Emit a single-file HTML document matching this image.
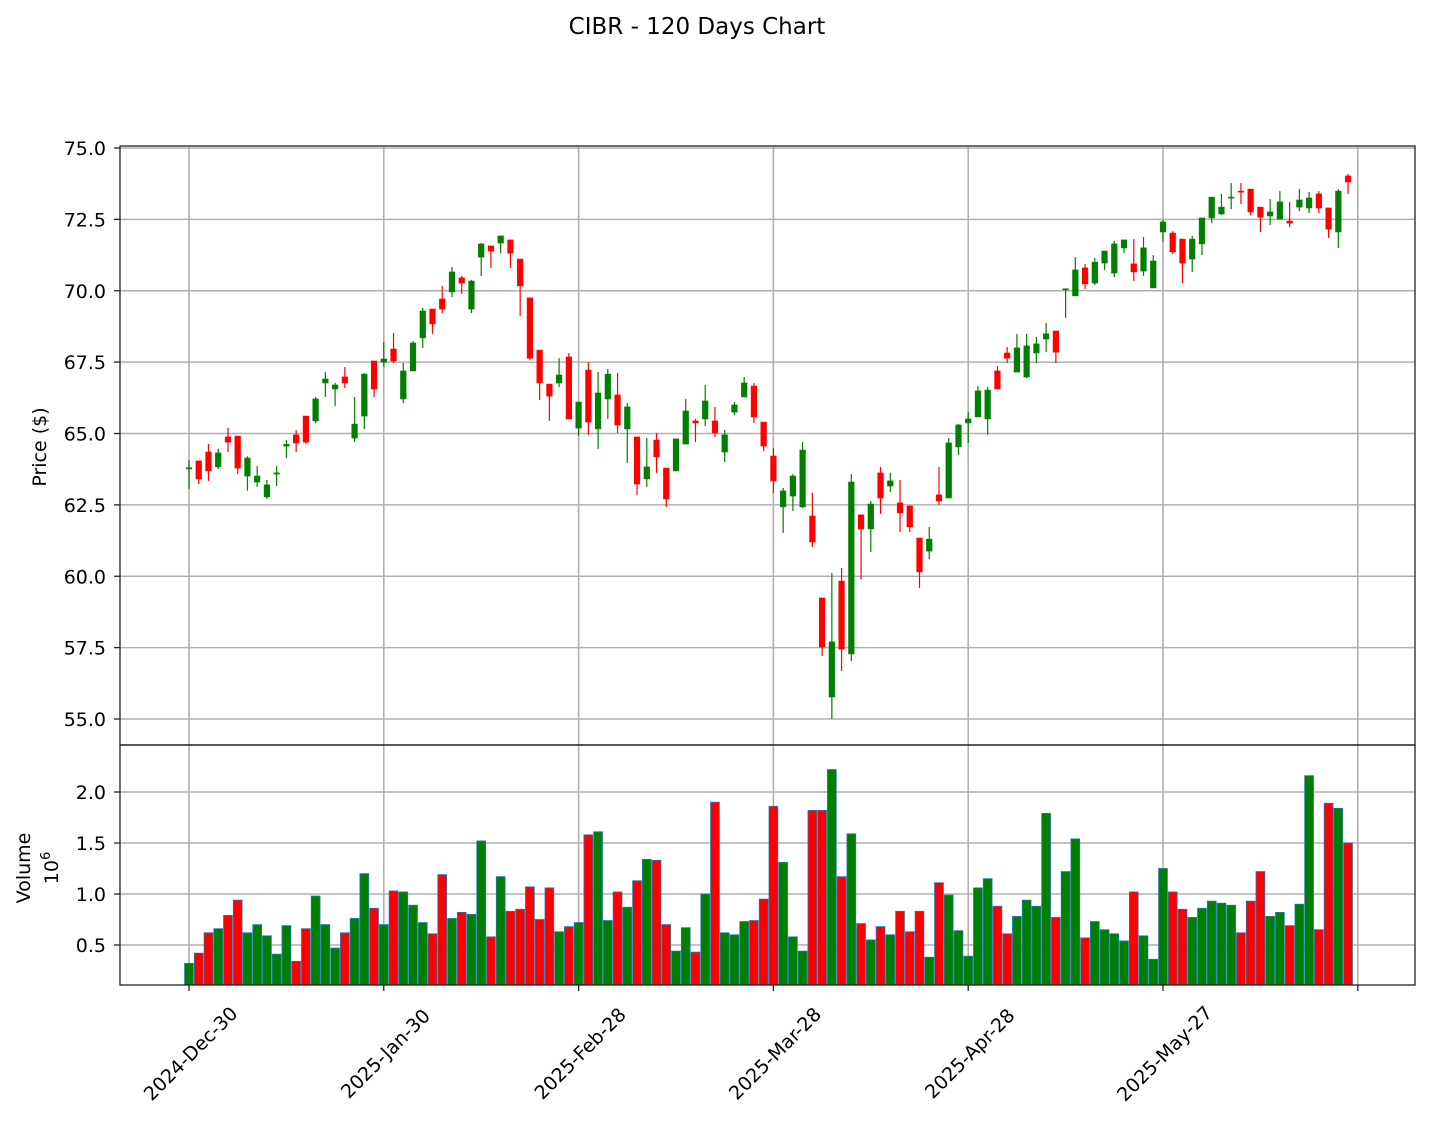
<!DOCTYPE html>
<html><head><meta charset="utf-8"><style>
body{margin:0;background:#fff;}
svg text{font-family:"DejaVu Sans","Liberation Sans",sans-serif;fill:#000;}
</style></head><body>
<svg id="chart" width="1431" height="1127" xmlns="http://www.w3.org/2000/svg">
<rect x="0" y="0" width="1431" height="1127" fill="#fff"/>
<text x="697" y="34" font-size="23" text-anchor="middle">CIBR - 120 Days Chart</text>
<g id="grid"></g>
<g id="candles"></g>
<g id="volumes"></g>
<rect x="120" y="146" width="1295" height="599" fill="none" stroke="#222" stroke-width="1.3"/>
<rect x="120" y="745" width="1295" height="240" fill="none" stroke="#222" stroke-width="1.3"/>
<g id="axes"></g>
<text transform="translate(46,447) rotate(-90)" font-size="19" text-anchor="middle">Price ($)</text>
<text transform="translate(30,868) rotate(-90)" font-size="19" text-anchor="middle">Volume</text>
<text transform="translate(58,868) rotate(-90)" font-size="19" text-anchor="middle">10<tspan dy="-8" font-size="13">6</tspan></text>
</svg>
<script>
const opens=[63.76,64.04,64.35,63.83,64.88,64.91,63.51,63.30,62.78,63.58,64.56,64.95,65.61,65.44,66.77,66.56,66.98,64.84,65.61,67.54,67.50,67.96,66.21,67.19,68.35,69.36,69.71,69.96,70.45,69.36,71.18,71.57,71.67,71.78,71.11,69.75,67.92,66.73,66.77,67.68,65.19,67.22,65.16,66.21,66.35,65.16,64.88,63.41,64.77,63.79,63.69,64.63,65.44,65.51,65.44,64.35,65.75,66.28,66.66,65.40,64.21,62.43,62.81,62.43,62.11,59.24,55.77,59.83,57.28,62.15,61.66,63.62,63.16,62.57,62.46,61.34,60.88,62.85,62.74,64.53,65.37,65.58,65.51,67.19,67.82,67.15,66.98,67.82,68.31,68.59,70.03,69.82,70.80,70.27,70.97,70.62,71.50,70.94,70.69,70.10,72.06,72.02,71.81,71.11,71.64,72.55,72.69,73.25,73.49,73.56,72.93,72.62,72.51,72.44,72.93,72.90,73.39,72.90,72.06,74.02];
const closes=[63.80,63.41,63.69,64.32,64.70,63.79,64.14,63.51,63.20,63.62,64.62,64.67,64.70,66.21,66.91,66.70,66.77,65.33,67.08,66.56,67.61,67.54,67.19,68.17,69.29,68.84,69.36,70.66,70.27,70.34,71.64,71.39,71.92,71.32,70.17,67.64,66.77,66.31,67.05,65.51,66.10,65.40,66.42,67.08,65.30,65.93,63.23,63.83,64.18,62.71,64.81,65.79,65.37,66.14,65.02,64.95,66.00,66.77,65.58,64.56,63.34,62.99,63.51,64.42,61.20,57.52,57.70,57.45,63.30,61.66,62.53,62.74,63.34,62.22,61.73,60.15,61.30,62.64,64.67,65.30,65.51,66.49,66.52,66.56,67.64,68.00,68.07,68.14,68.49,67.85,70.07,70.73,70.24,71.00,71.39,71.64,71.78,70.66,71.50,71.04,72.41,71.36,70.97,71.81,72.55,73.28,72.93,73.28,73.46,72.76,72.58,72.76,73.11,72.37,73.18,73.25,72.90,72.16,73.49,73.81];
const highs=[64.07,64.04,64.63,64.46,65.20,64.91,64.20,63.86,63.37,63.86,64.77,65.12,65.61,66.28,67.15,66.77,67.33,66.28,67.12,67.54,68.20,68.52,67.47,68.24,69.40,69.36,70.17,70.83,70.52,70.38,71.67,71.57,71.92,71.78,71.11,69.75,67.92,66.73,67.64,67.82,66.10,67.50,67.15,67.26,67.12,66.07,64.88,64.84,65.02,63.79,64.81,66.21,65.51,66.70,65.93,65.12,66.10,66.98,66.77,65.40,64.49,63.09,63.58,64.70,62.92,59.24,60.11,60.29,63.58,62.15,62.64,63.83,63.62,63.37,62.46,61.34,61.73,63.83,64.84,65.33,65.75,66.66,66.63,67.36,68.03,68.49,68.49,68.38,68.87,68.59,70.07,71.18,70.94,71.15,71.39,71.74,71.78,71.81,71.88,71.25,72.48,72.09,71.81,71.92,72.55,73.28,73.39,73.77,73.77,73.56,72.93,73.21,73.49,73.11,73.56,73.46,73.49,72.90,73.56,74.09];
const lows=[63.06,63.23,63.34,63.76,64.35,63.58,63.00,63.13,62.71,63.16,64.14,64.35,64.63,65.37,66.28,65.96,66.59,64.70,65.16,66.28,67.33,67.47,66.07,67.19,68.00,68.49,69.22,69.78,69.89,69.22,70.52,70.80,71.32,70.80,69.12,67.57,66.17,65.44,66.63,65.51,64.91,64.95,64.46,65.51,65.02,63.97,62.85,63.13,63.62,62.43,63.69,64.63,64.70,65.26,64.88,64.00,65.65,66.28,65.37,64.39,62.92,61.52,62.29,62.39,61.02,57.21,55.00,56.68,57.03,59.90,60.85,62.18,62.95,61.55,61.55,59.59,60.60,62.50,62.74,64.25,64.67,65.58,64.95,66.56,67.47,67.15,66.94,67.47,67.85,67.47,69.05,69.82,70.06,70.20,70.73,70.48,71.32,70.34,70.52,70.10,71.71,71.29,70.27,70.66,71.25,72.37,72.65,72.86,73.04,72.65,72.06,72.30,72.51,72.23,72.79,72.72,72.72,71.85,71.50,73.39];
const volumes=[0.32,0.42,0.62,0.66,0.79,0.94,0.62,0.70,0.59,0.41,0.69,0.34,0.66,0.98,0.70,0.47,0.62,0.76,1.20,0.86,0.70,1.03,1.02,0.89,0.72,0.61,1.19,0.76,0.82,0.80,1.52,0.58,1.17,0.83,0.85,1.07,0.75,1.06,0.63,0.68,0.72,1.58,1.61,0.74,1.02,0.87,1.13,1.34,1.33,0.70,0.44,0.67,0.43,1.00,1.90,0.62,0.60,0.73,0.74,0.95,1.86,1.31,0.58,0.44,1.82,1.82,2.22,1.17,1.59,0.71,0.55,0.68,0.60,0.83,0.63,0.83,0.38,1.11,0.99,0.64,0.39,1.06,1.15,0.88,0.61,0.78,0.94,0.88,1.79,0.77,1.22,1.54,0.57,0.73,0.65,0.61,0.54,1.02,0.59,0.36,1.25,1.02,0.85,0.77,0.86,0.93,0.91,0.89,0.62,0.93,1.22,0.78,0.82,0.69,0.90,2.16,0.65,1.89,1.84,1.50];
const volUp="GRRGRRGGGGGRRGGGRGGRGRGGGRRGRGGRGRRRRRGRGRGGRGRGRRGGRGRGGGRRRGGGRRGRGRGRGRRRGRGGGGGRRGGGGRGGRGGGGRGGGRRGGGGGRRRGGRGGRRGR";
const priceTicks=[55.0,57.5,60.0,62.5,65.0,67.5,70.0,72.5,75.0];
const volTicks=[0.5,1.0,1.5,2.0];
const xTickIdx=[0,20,40,60,80,100,120];
const xTickLabels=["2024-Dec-30","2025-Jan-30","2025-Feb-28","2025-Mar-28","2025-Apr-28","2025-May-27",""];

const NS="http://www.w3.org/2000/svg";
const X=i=>189+9.74*i;
const PY=p=>148+(75-p)*28.55;
const VY=v=>996-v*102;
const UP="#007f00",DN="#ff0000";
function mk(tag,attrs,parent){const e=document.createElementNS(NS,tag);for(const k in attrs)e.setAttribute(k,attrs[k]);parent.appendChild(e);return e;}
const grid=document.getElementById('grid'),cg=document.getElementById('candles'),vg=document.getElementById('volumes'),ax=document.getElementById('axes');
xTickIdx.forEach((t,k)=>{
  const g1=mk('line',{x1:X(t),x2:X(t),y1:146,y2:745,stroke:"#b0b0b0","stroke-width":1.6},grid);
  
  
  const g2=mk('line',{x1:X(t),x2:X(t),y1:745,y2:985,stroke:"#b0b0b0","stroke-width":1.6},grid);
  
  
  const tk=mk('line',{x1:X(t),x2:X(t),y1:985,y2:991,stroke:"#222","stroke-width":1.3},ax);
  
  
  if(xTickLabels[k]){
    const tx=mk('text',{transform:`translate(${X(t)+2},1054) rotate(-45)`,"font-size":"19","text-anchor":"middle","dominant-baseline":"central"},ax);
    tx.textContent=xTickLabels[k];
    
    
  }
});
priceTicks.forEach(p=>{
  const gl=mk('line',{x1:120,x2:1415,y1:PY(p),y2:PY(p),stroke:"#b0b0b0","stroke-width":1.6},grid);
  
  
  const tk=mk('line',{x1:114,x2:120,y1:PY(p),y2:PY(p),stroke:"#222","stroke-width":1.3},ax);
  
  
  const tx=mk('text',{x:106,y:PY(p)+7,"font-size":"19","text-anchor":"end"},ax);
  tx.textContent=p.toFixed(1);
  
  
});
volTicks.forEach(v=>{
  const gl=mk('line',{x1:120,x2:1415,y1:VY(v),y2:VY(v),stroke:"#b0b0b0","stroke-width":1.6},grid);
  
  
  const tk=mk('line',{x1:114,x2:120,y1:VY(v),y2:VY(v),stroke:"#222","stroke-width":1.3},ax);
  
  
  const tx=mk('text',{x:106,y:VY(v)+7,"font-size":"19","text-anchor":"end"},ax);
  tx.textContent=v.toFixed(1);
  
  
});
opens.forEach((o,i)=>{
  const c=closes[i],col=c>=o?UP:DN,x=X(i);
  const w=mk('line',{x1:x,x2:x,y1:PY(highs[i]),y2:PY(lows[i]),stroke:col,"stroke-width":1.2},cg);
  
  
  const top=PY(Math.max(o,c)),bot=PY(Math.min(o,c));
  const b=mk('rect',{x:x-2.8,y:top,width:5.6,height:Math.max(bot-top,1),fill:col,stroke:col,"stroke-width":0.6},cg);
  
  
});
volumes.forEach((v,i)=>{
  const col=volUp[i]==="G"?UP:DN;
  const r=mk('rect',{x:X(i)-4.4,y:VY(v),width:8.8,height:Math.max(985-VY(v),0),fill:col,stroke:"#1f77b4","stroke-width":0.8},vg);
  
  
});
</script>
</body></html>
